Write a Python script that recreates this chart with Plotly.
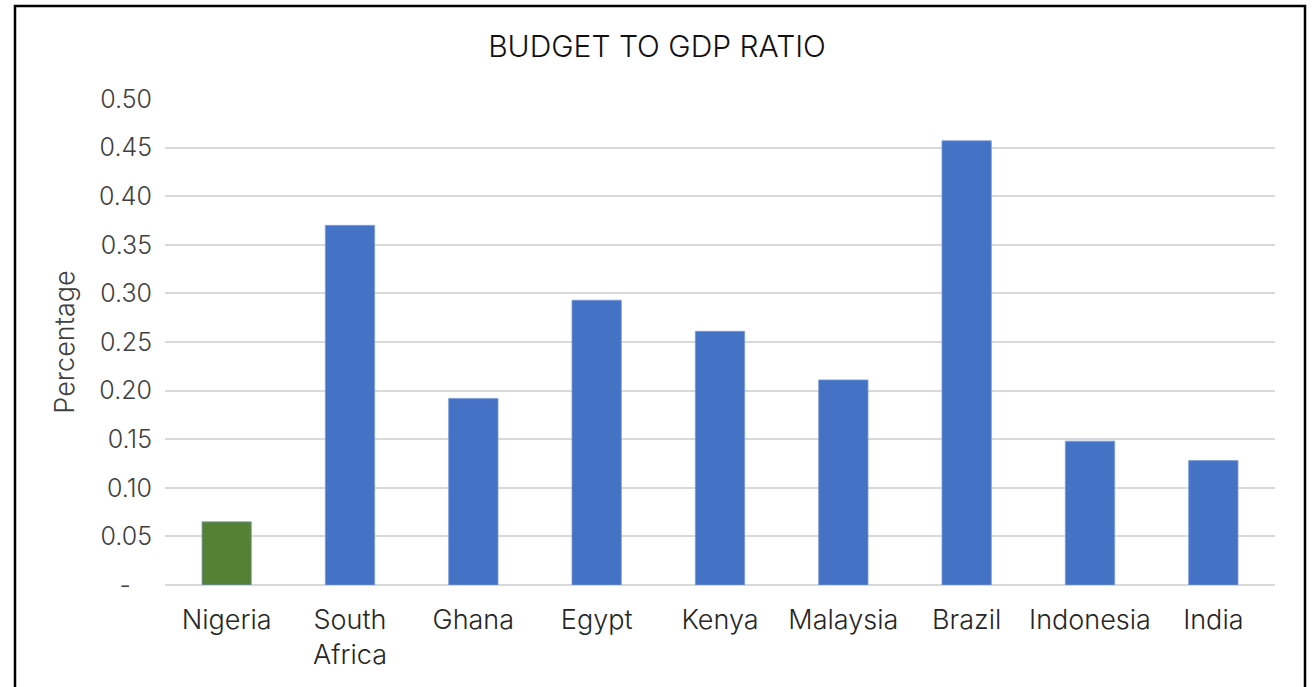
import plotly.graph_objects as go

countries = ["Nigeria", "South<br>Africa", "Ghana", "Egypt", "Kenya",
             "Malaysia", "Brazil", "Indonesia", "India"]
ratios = [0.065, 0.370, 0.192, 0.293, 0.261, 0.211, 0.457, 0.148, 0.128]
bar_colors = ["#548235"] + ["#4472C4"] * 8

tick_vals = [0.0, 0.05, 0.10, 0.15, 0.20, 0.25, 0.30, 0.35, 0.40, 0.45, 0.50]
tick_text = ["-\u00a0\u00a0\u00a0", "0.05", "0.10", "0.15", "0.20", "0.25",
             "0.30", "0.35", "0.40", "0.45", "0.50"]

W, H = 1314, 687
L, R, T, B = 165, 39, 99, 102
FONT = "Inter, sans-serif"

fig = go.Figure(go.Bar(
    x=countries, y=ratios,
    marker=dict(color=bar_colors, line=dict(color="#7c9bd6", width=0.8)),
    width=0.4,
))

fig.update_layout(
    width=W, height=H,
    margin=dict(l=L, r=R, t=T, b=B),
    paper_bgcolor="white", plot_bgcolor="white",
    font=dict(family=FONT, color="#404040", size=22, weight=300),
    showlegend=False,
    title=dict(text="BUDGET TO GDP RATIO", x=0.5, xanchor="center",
               y=1 - 46 / H, yanchor="middle",
               font=dict(family=FONT, size=30, color="#111111", weight=300)),
    xaxis=dict(showgrid=False, showline=False, ticks="",
               tickfont=dict(family=FONT, size=27, color="#262626", weight=300),
               ticklabelstandoff=16),
    yaxis=dict(range=[0, 0.5], tickvals=tick_vals, ticktext=tick_text,
               showgrid=True, gridcolor="#d9d9d9", gridwidth=1.5,
               zeroline=True, zerolinecolor="#d9d9d9", zerolinewidth=1.5,
               showline=False, ticks="", ticklabelstandoff=12,
               tickfont=dict(family=FONT, size=25, color="#404040", weight=300),
               title=dict(text="Percentage", standoff=16,
                          font=dict(family=FONT, size=27, color="#404040",
                                    weight=300))),
)

# outer frame around the chart
pw, ph = W - L - R, H - T - B
fig.add_shape(type="rect", xref="paper", yref="paper",
              x0=(15 - L) / pw, x1=(1305 - L) / pw,
              y0=(H - B - 700) / ph, y1=(H - B - 6) / ph,
              line=dict(color="black", width=2.5), fillcolor="rgba(0,0,0,0)",
              layer="below")

fig.write_html("out.html")
